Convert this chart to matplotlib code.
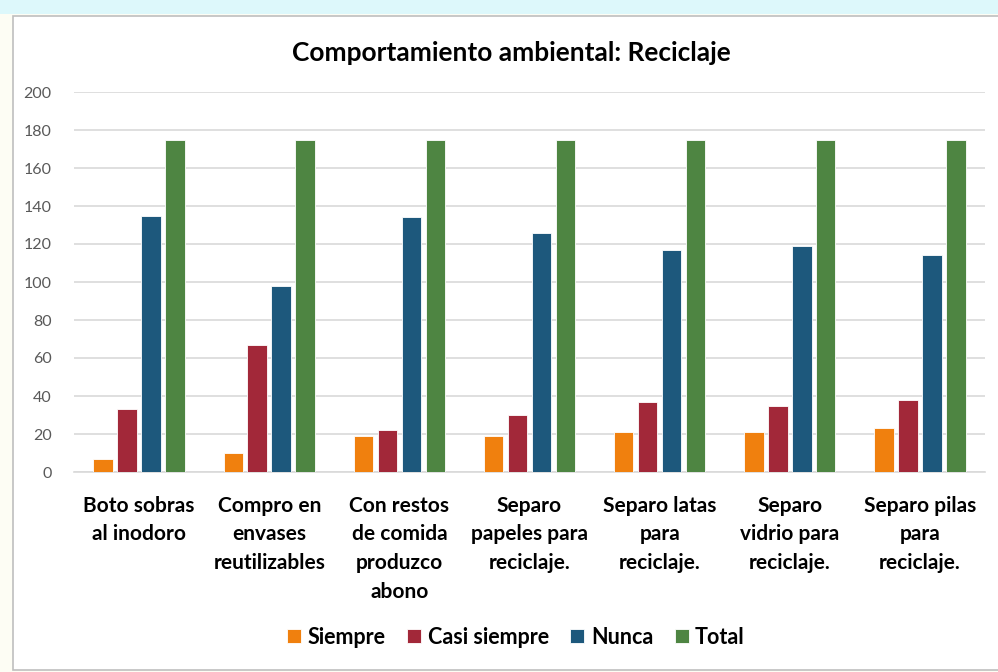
import matplotlib
matplotlib.use("Agg")
import matplotlib.pyplot as plt
from matplotlib.patches import Rectangle
import numpy as np

categorias = ["Boto sobras\nal inodoro", "Compro en\nenvases\nreutilizables",
              "Con restos\nde comida\nproduzco\nabono", "Separo\npapeles para\nreciclaje.",
              "Separo latas\npara\nreciclaje.", "Separo\nvidrio para\nreciclaje.",
              "Separo pilas\npara\nreciclaje."]
siempre = [7, 10, 19, 19, 21, 21, 23]
casi_siempre = [33, 67, 22, 30, 37, 35, 38]
nunca = [135, 98, 134, 126, 117, 119, 114]
total = [175, 175, 175, 175, 175, 175, 175]
series = ["Siempre", "Casi siempre", "Nunca", "Total"]
colores = ["#F0800E", "#A22839", "#1D587C", "#4E8542"]

plt.rcParams['font.family'] = ['Lato', 'DejaVu Sans']

W, H = 998, 672
fig = plt.figure(figsize=(W / 100, H / 100), dpi=100)
fig.patch.set_facecolor("#FDFDF4")

# marco del grafico (coordenadas en pixeles de la figura)
fig.patches.append(Rectangle((13 / W, 1 - 670 / H), (W - 13) / W + 0.01, (670 - 16) / H,
                             transform=fig.transFigure, facecolor="white",
                             edgecolor="#BFBFBF", linewidth=1.2, zorder=-2))
fig.patches.append(Rectangle((0, 1 - 14 / H), 1, 14 / H, transform=fig.transFigure,
                             facecolor="#DDF8FB", edgecolor="none", zorder=-2))

ax = fig.add_axes([74 / W, 1 - 472 / H, (985 - 74) / W, (472 - 92) / H])
ax.set_facecolor("none")

x = np.arange(len(categorias))
paso = 0.184
ancho = 0.15
for i, (vals, nombre, col) in enumerate(zip([siempre, casi_siempre, nunca, total], series, colores)):
    ax.bar(x + (i - 1.5) * paso, vals, ancho, color=col, label=nombre,
           edgecolor="white", linewidth=0.6, zorder=3)

ax.set_ylim(0, 200)
ax.set_xlim(-0.5, len(categorias) - 0.5)
ax.set_yticks(range(0, 201, 20))
ax.tick_params(axis="y", length=0, labelsize=11.5, labelcolor="#595959", pad=16)
ax.tick_params(axis="x", length=0, pad=17)
ax.set_xticks(x)
ax.set_xticklabels(categorias, fontsize=15, fontweight="bold", color="black", linespacing=1.55,
                   va="top")
ax.grid(axis="y", color="#D9D9D9", linewidth=1.2, zorder=0)
for s in ["top", "right", "left"]:
    ax.spines[s].set_visible(False)
ax.spines["bottom"].set_color("#D9D9D9")
ax.spines["bottom"].set_linewidth(1.2)

fig.text(511 / W, 1 - 53 / H, "Comportamiento ambiental: Reciclaje", ha="center", va="center",
         fontsize=18.9, fontweight="bold", color="black")

leg = fig.legend(loc="center", bbox_to_anchor=(516 / W, 1 - 637 / H), ncol=4, frameon=False,
                 handlelength=0.65, handleheight=0.65, handletextpad=0.3, columnspacing=1.0,
                 prop={"size": 15.5, "weight": "bold"})

fig.savefig("out.png", dpi=100, facecolor=fig.get_facecolor())
